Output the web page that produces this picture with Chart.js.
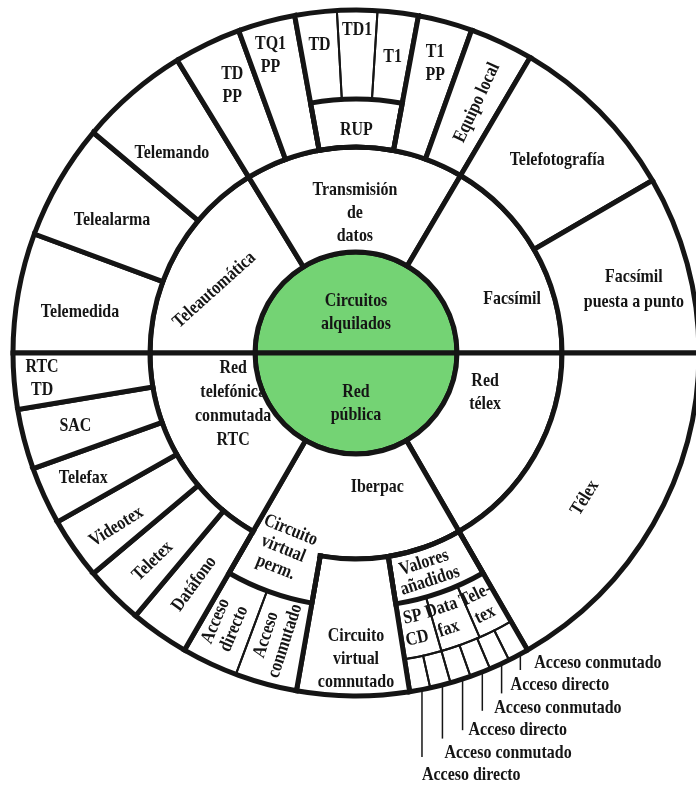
<!DOCTYPE html>
<html><head><meta charset="utf-8">
<script src="https://cdn.jsdelivr.net/npm/chart.js@4.4.1/dist/chart.umd.min.js"></script>
<style>
html,body{margin:0;padding:0;background:#fff;overflow:hidden;}
#wrap{position:relative;width:696px;height:787px;overflow:hidden;background:#fff;}
#wrap canvas{position:absolute;left:0;top:0;}
</style></head><body>
<div id="wrap">
<canvas id="c0" width="712" height="787"></canvas>
<canvas id="c1" width="712" height="787"></canvas>
<canvas id="c2" width="712" height="787"></canvas>
</div>
<script>
// ---- DATA: angular spans in degrees, clockwise, starting at 9 o'clock ----
const coreLabels = ['Circuitos\nalquilados', 'Red\npública'];
const coreSpans = [180, 180];

const serviceLabels = ['Teleautomática', 'Transmisión\nde\ndatos', 'Facsímil', 'Red\ntélex', 'Iberpac', 'Red\ntelefónica\nconmutada\nRTC'];
const serviceSpans = [58.6, 61.9, 59.5, 60, 60, 60];

const outerLabels = ['Telemedida', 'Telealarma', 'Telemando', 'TD\nPP', 'TQ1\nPP', '', 'T1\nPP', 'Equipo local',
  'Telefotografía', 'Facsímil\npuesta a punto', 'Télex', '', 'Circuito\nvirtual\ncomnutado', '',
  'Datáfono', 'Teletex', 'Videotex', 'Telefax', 'SAC', 'RTC\nTD'];
const outerSpans = [20.3, 19.7, 18.6, 11.4, 9.7, 20.8, 9.2, 10.8, 29.3, 30.2, 60, 21, 19, 20, 10, 10, 10.5, 9.8, 10.2, 9.5];

const subLabels = [null, 'RUP', null, 'Valores\nañadidos', null, 'Circuito\nvirtual\nperm.', null];
const subSpans = [79.7, 20.8, 139.5, 21, 19, 20, 60];

const vaLabels = [null, 'Tele-\ntex', 'Data\nfax', 'SP\nCD', null];
const vaSpans = [240, 6.5, 7.5, 7, 99];

const slotLabels = [null, 'Acceso conmutado', 'Acceso directo', 'Acceso conmutado', 'Acceso directo', 'Acceso conmutado', 'Acceso directo', null];
const slotSpans = [240, 3.5, 3.5, 3.5, 3.5, 3.5, 3.5, 99];

const circuitLabels = [null, 'TD', 'TD1', 'T1', null, 'Acceso\nconmutado', 'Acceso\ndirecto', null];
const circuitSpans = [79.7, 7.1, 6.8, 6.9, 179.5, 10.5, 9.5, 60];

const openLabels = [null, '', null];
const openSpans = [280.8, 18.4, 60.8];

// ---- STYLE ----
const INK = '#151515';
const GREEN = '#74d374';
const WHITE = '#ffffff';
const NONE = 'rgba(0,0,0,0)';
const THICK = 5, THIN = 2;
const FS = 19, SX = 0.84, LH = 23;
const FONT = 'bold ' + FS + 'px "Liberation Serif", "DejaVu Serif", serif';

// label placement: da = angle shift (deg) from segment middle, r = radius (px), rot = text rotation (deg)
const place = {
  'Circuitos\nalquilados': {r: 40},
  'Red\npública': {r: 51},
  'Transmisión\nde\ndatos': {r: 140},
  'Facsímil': {da: 10.8, r: 165},
  'Red\ntélex': {da: -13, r: 135},
  'Iberpac': {da: -9, r: 136},
  'Red\ntelefónica\nconmutada\nRTC': {da: 7.5, r: 133, lh: 24},
  'Teleautomática': {da: -5.3, r: 155, rot: -42},
  'Telemedida': {da: -1.7, r: 279},
  'Telealarma': {da: -1.5, r: 278},
  'Telemando': {da: -1.9, r: 272},
  'TD\nPP': {da: 0.9, r: 295},
  'TQ1\nPP': {da: -0.9, r: 309},
  'TD': {r: 310},
  'TD1': {r: 323},
  'T1': {r: 298},
  'RUP': {r: 223},
  'T1\nPP': {da: 0.2, r: 300},
  'Equipo local': {da: 0.7, r: 278, rot: -65},
  'Telefotografía': {da: 1, r: 279},
  'Facsímil\npuesta a punto': {da: 2.3, r: 285, lh: 25},
  'Télex': {da: 2.3, r: 271, rot: -58},
  'Valores\nañadidos': {da: 1.5, r: 230, rot: -18, lh: 19},
  'SP\nCD': {da: 0.4, r: 281, rot: -12, lh: 22},
  'Data\nfax': {da: 1.2, r: 280, rot: -19, lh: 22},
  'Tele-\ntex': {da: 0.5, r: 281, rot: -26, lh: 22},
  'Circuito\nvirtual\ncomnutado': {da: -0.5, r: 306},
  'Circuito\nvirtual\nperm.': {da: 0.4, r: 209, rot: 22, lh: 20},
  'Acceso\ndirecto': {da: 0.5, r: 302, rot: -67, lh: 20},
  'Acceso\nconmutado': {da: 0.5, r: 296, rot: -72, lh: 20},
  'Datáfono': {r: 282, rot: -54},
  'Teletex': {da: -0.7, r: 291, rot: -44},
  'Videotex': {da: -1.2, r: 296, rot: -32},
  'Telefax': {r: 300},
  'SAC': {r: 290},
  'RTC\nTD': {r: 315}
};
// leader labels under the small access slots
const leaderDx = [14, 9, 12, 6, 2, 0];
const leaderEnd = [7, 8, 3, 0, -14, -18];

function ring(labels, spans, weight, fill, bw) {
  return {
    data: spans,
    segLabels: labels,
    weight: weight,
    backgroundColor: labels.map(l => l === null ? NONE : fill),
    borderColor: INK,
    borderWidth: labels.map(l => l === null ? 0 : bw),
    borderAlign: 'center',
    borderJoinStyle: 'miter'
  };
}

function opts(cutout) {
  return {
    responsive: false,
    animation: false,
    events: [],
    devicePixelRatio: 1,
    layout: {padding: {left: 0, top: 0, right: 0, bottom: 81}},
    rotation: 270,
    circumference: 360,
    radius: 343,
    cutout: cutout,
    plugins: {legend: {display: false}, tooltip: {enabled: false}, title: {display: false}}
  };
}

const charts = [];

function drawText(ctx, text, x, y, rot, lh, align) {
  ctx.save();
  ctx.translate(x, y);
  ctx.rotate((rot || 0) * Math.PI / 180);
  ctx.scale(SX, 1);
  ctx.textAlign = align || 'center';
  ctx.textBaseline = 'middle';
  const lines = text.split('\n');
  lines.forEach((ln, j) => ctx.fillText(ln, 0, (j - (lines.length - 1) / 2) * lh));
  ctx.restore();
}

const labelPlugin = {
  id: 'segLabels',
  afterDraw(chart) {
    const list = charts.includes(chart) ? charts : charts.concat([chart]);
    const ctx = chart.ctx;
    ctx.save();
    ctx.font = FONT;
    ctx.fillStyle = INK;
    ctx.strokeStyle = INK;
    list.forEach(ch => {
      ch.data.datasets.forEach((ds, di) => {
        if (!ds.segLabels) return;
        const meta = ch.getDatasetMeta(di);
        let k = 0;
        meta.data.forEach((arc, i) => {
          const text = ds.segLabels[i];
          if (!text) return;
          const midA = (arc.startAngle + arc.endAngle) / 2;
          if (ds.leader) {
            const px = arc.x + arc.outerRadius * Math.cos(midA) + 2;
            const py = arc.y + arc.outerRadius * Math.sin(midA);
            const yl = arc.y + arc.outerRadius - 33 + k * 22.4;
            ctx.lineWidth = 1.5;
            ctx.beginPath();
            ctx.moveTo(px, py);
            ctx.lineTo(px, yl + leaderEnd[k]);
            ctx.stroke();
            drawText(ctx, text, px + leaderDx[k], yl, 0, LH, 'left');
            k++;
            return;
          }
          const p = place[text] || {};
          const a = midA + (p.da || 0) * Math.PI / 180;
          const r = p.r != null ? p.r : (arc.innerRadius + arc.outerRadius) / 2;
          drawText(ctx, text, arc.x + r * Math.cos(a), arc.y + r * Math.sin(a), p.rot, p.lh || LH);
        });
      });
    });
    ctx.restore();
  }
};

// base: outer ring 206-343, service ring 101-206, core 0-101
charts.push(new Chart(document.getElementById('c0'), {
  type: 'doughnut',
  data: {datasets: [
    ring(outerLabels, outerSpans, 137, WHITE, THICK),
    ring(serviceLabels, serviceSpans, 105, WHITE, THICK),
    ring(coreLabels, coreSpans, 101, GREEN, THICK)
  ]},
  options: opts('0%')
}));

// overlay A: access slots 310-343, value-added services 254-310, sub-blocks 206-254
const slotRing = ring(slotLabels, slotSpans, 33, NONE, THIN);
slotRing.leader = true;
charts.push(new Chart(document.getElementById('c1'), {
  type: 'doughnut',
  data: {datasets: [
    slotRing,
    ring(vaLabels, vaSpans, 56, NONE, THIN),
    ring(subLabels, subSpans, 48, NONE, THICK)
  ]},
  options: opts((206 / 343 * 100) + '%')
}));

// overlay B: circuits 254-343, spacer 212-254, opening of Iberpac 200-212
const openRing = ring(openLabels, openSpans, 12, WHITE, 0);
new Chart(document.getElementById('c2'), {
  type: 'doughnut',
  data: {datasets: [
    ring(circuitLabels, circuitSpans, 89, NONE, THIN),
    ring([null], [360], 42, NONE, 0),
    openRing
  ]},
  options: opts((200 / 343 * 100) + '%'),
  plugins: [labelPlugin]
});
</script>
</body></html>
